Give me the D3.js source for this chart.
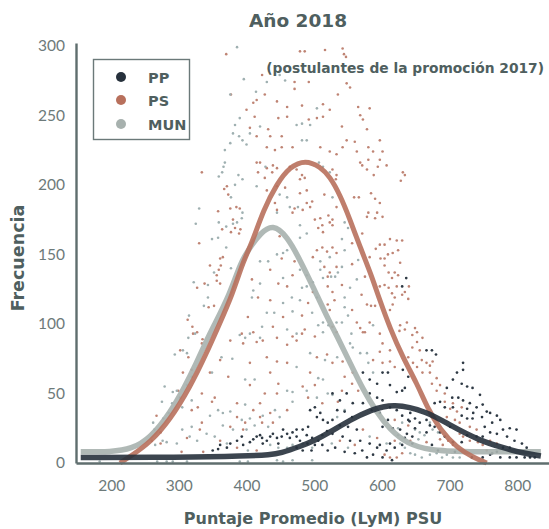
<!DOCTYPE html>
<html>
<head>
<meta charset="utf-8">
<script src="https://cdn.jsdelivr.net/npm/d3@7"></script>
<style>
	body { margin: 0; background: #fff; }
	svg { display: block; }
</style>
</head>
<body>
<div id="chart"></div>
<script>
// puntaje vs frecuencia
var seriesNames = ['PP', 'PS', 'MUN'];
var xTicks = [200, 300, 400, 500, 600, 700, 800];
var yTicks = [0, 50, 100, 150, 200, 250, 300];

var ppCurve = [[155,4],[300,4],[400,5],[435,6],[450,7],[480,12],[500,16],[523,22],[553,31],[583,38],[617,43],[667,37],[701,27],[745,16],[779,11],[809,7],[835,5]];
var psCurve = [[213,0],[232,6],[258,15],[287,31],[317,55],[340,78],[360,100],[379,121],[395,145],[408,158],[425,182],[445,201],[464,213],[487,218],[509,213],[523,206],[538,193],[553,175],[568,155],[583,137],[597,117],[612,97],[631,76],[652,57],[667,40],[686,24],[711,11],[735,4],[755,0]];
var munCurve = [[155,8],[200,8],[230,10],[258,18],[287,36],[309,55],[326,72],[341,88],[349,96],[376,122],[391,144],[405,155],[420,165],[439,172],[460,163],[479,146],[498,127],[519,105],[534,91],[553,72],[572,53],[593,36],[612,24],[637,14],[671,9],[720,8],[835,8]];

var psDots = [[370,294],[486,296],[479,296],[516,297],[542,298],[544,294],[547,292],[423,279],[471,274],[492,274],[471,269],[548,273],[553,270],[427,265],[535,265],[415,261],[410,259],[445,260],[460,256],[482,257],[513,258],[523,254],[565,256],[582,255],[412,249],[447,248],[460,249],[492,247],[504,248],[513,249],[568,250],[572,247],[405,241],[432,240],[541,242],[578,240],[415,235],[435,235],[452,235],[548,232],[560,231],[597,232],[430,227],[442,225],[452,227],[468,227],[509,227],[523,224],[542,227],[563,224],[580,227],[601,224],[420,216],[568,216],[607,214],[533,222],[580,218],[597,218],[631,209],[634,207],[587,224],[377,265],[400,254],
	[571,214],[578,211],[594,213],[588,207],[628,203],[532,204],[559,191],[566,191],[584,194],[590,190],[597,187],[580,180],[593,180],[578,177],[590,176],[601,177],[571,165],[612,161],[622,160],[630,160],[604,157],[597,157],[591,154],[616,151],[624,153],[609,150],[604,147],[598,147],[582,148],[627,144],[619,137],[624,135],[604,142],[610,137],[615,133],[622,127],[640,127],[634,123],[604,128],[610,126],[597,127],[615,122],[619,119],[630,121],[639,118],[616,114],[612,110],[578,114],[584,113],[590,113],[627,99],[637,101],[649,97],[652,94],[626,95],[634,96],
	[533,184],[527,171],[556,158],[556,143],[575,134],[541,128],[570,121],[523,110],[556,110],[563,101],[582,101],[568,97],[575,94],
	[334,209],[371,199],[367,197],[373,193],[358,181],[376,183],[385,184],[390,183],[380,175],[364,168],[377,166],[383,169],[391,168],[389,165],[330,158],[361,147],[365,148],[346,142],[362,142],[356,135],[359,139],[327,126],[338,129],[356,131],[361,129],[344,112],[352,113],[313,103],[320,98],[327,94],
	[415,216],[430,212],[439,214],[445,212],[438,209],[417,209],[427,205],[430,196],[445,199],[464,213],[474,211],[482,207],[479,204],[486,205],[457,198],[479,194],[489,196],[471,183],[483,182],[468,180],[442,187],[445,182],[489,187],[497,188],[494,184],[501,175],[509,176],[512,171],[506,169],[513,166],[521,178],[527,175],[523,173],[527,211],[533,207],[515,193],[449,163],[504,153],[512,155],[519,152],[527,155],[533,151],[452,147],[471,145],[498,148],[515,141],[435,139],[468,135],[520,134],[523,137],[533,141],[408,132],[447,129],[460,127],[498,123],[520,127],[527,123],[417,119],[435,117],[491,115],[520,114],[530,117],[402,105],[454,105],[482,106],[410,94],[439,98],[486,96],[393,93],[445,90],[468,91],[482,93],[527,98],[533,94],
	[321,93],[335,89],[334,86],[302,81],[314,76],[306,65],[319,67],[299,52],[302,47],[267,34],[273,22],[260,16],[273,14],[319,38],[328,40],[334,50],[353,47],[349,44],[334,29],[312,18],[331,24],[346,65],[361,74],[376,88],[395,86],[415,87],[424,88],[405,72],[430,76],[445,73],[460,85],[474,88],[501,91],[504,76],[519,78],[460,72],[494,65],[373,62],[405,56],[435,65],[447,57],[427,50],[445,50],[483,55],[501,56],[386,43],[410,38],[420,43],[435,36],[460,38],[491,47],[512,43],[386,33],[398,29],[420,33],[376,26],[395,24],[423,29],[439,29],[361,16],[386,11],[415,9],[336,8],[304,8],
	[645,92],[652,87],[660,90],[645,83],[656,81],[639,76],[646,72],[652,69],[659,74],[666,72],[671,70],[675,73],[660,65],[671,65],[681,61],[674,57],[686,56],[681,52],[693,50],[693,44],[705,43],[701,39],[711,37],[718,40],[696,33],[708,31],[715,29],[730,26],[740,24],[715,21],[720,19],[730,16],[742,15],[749,13],[755,9],[760,16],[770,14],[698,16],[705,13],[690,13],[686,17],
	[572,94],[597,93],[601,86],[612,81],[597,80],[587,74],[601,72],[612,73],[619,69],[527,72],[542,73],[545,62],[557,65],[556,57],[565,52],[541,52],[535,44],[538,16],[560,13],[572,24],[593,18],[619,16],[604,6],[612,4],[622,4],[630,7],[619,31],[639,27],[642,16],[666,15]];

var munDots = [[386,299],[396,276],[414,267],[376,265],[430,274],[449,279],[457,275],[504,255],[390,248],[383,243],[420,242],[474,243],[482,244],[494,243],[380,237],[389,235],[394,232],[405,237],[482,232],[489,232],[376,230],[368,225],[400,229],[368,216],[366,213],[428,213],
	[364,209],[359,206],[388,207],[383,200],[394,204],[377,191],[330,183],[394,180],[393,176],[325,172],[359,173],[370,170],[380,172],[386,173],[349,161],[358,162],[370,155],[352,137],[377,140],[322,130],[343,128],[343,119],[337,113],[315,106],[324,93],[314,90],
	[415,199],[449,193],[460,191],[464,184],[476,184],[445,180],[479,171],[489,165],[507,216],[513,213],[479,162],[460,153],[454,151],[445,150],[420,145],[432,145],[509,145],[454,133],[479,139],[509,139],[513,133],[489,135],[498,130],[420,129],[410,124],[482,126],[489,127],[408,119],[454,115],[467,119],[479,117],[504,119],[430,108],[441,108],[468,109],[497,108],[506,99],[513,101],[521,99],[423,98],[460,96],[474,93],[405,93],[420,90],
	[523,209],[527,191],[545,173],[550,169],[541,161],[545,153],[523,148],[541,141],[565,146],[563,132],[525,134],[531,134],[535,137],[553,126],[545,119],[545,112],[550,106],[533,101],[541,101],[587,99],[555,93],
	[306,81],[312,79],[294,78],[319,62],[279,55],[291,51],[275,44],[290,43],[277,32],[285,36],[262,29],[264,24],[282,15],[297,14],[305,24],[316,19],[319,26],[327,16],[341,21],[346,34],[358,38],[365,36],[349,65],[363,76],[379,75],[390,92],[398,90],[494,79],[516,74],[513,94],[474,69],[506,61],[398,60],[412,60],[460,52],[468,51],[489,52],[513,60],[398,42],[424,34],[442,38],[449,33],[468,44],[504,47],[520,50],[376,37],[393,31],[405,32],[365,27],[380,24],[400,24],[412,27],[432,26],[353,19],[371,14],[402,9],[435,13],[447,11],[460,11],[468,13],[483,14],[497,11],
	[390,1],[402,1],[445,2],[454,1],[468,2],[497,2],[183,1],[268,1],[282,1],[291,1],[312,1],[297,52],[305,40],[312,56],[319,45],[276,16],[265,13],
	[534,76],[553,86],[557,83],[568,79],[578,79],[580,72],[587,65],[534,33],[545,38],[527,49],[526,14],[550,11],[582,19],[607,14],[624,20],[627,14],[634,11],[642,7],[649,6],[659,4],[671,6],[681,7],[689,4],[696,6],[705,4],[715,4],[649,24],[656,22],[663,20],[654,17],[671,29],[675,24],[683,22],[630,29],[624,25]];

var ppDots = [[358,10],[371,11],[376,14],[386,16],[393,19],[395,13],[405,15],[415,19],[423,18],[424,14],[430,16],[435,19],[439,21],[445,18],[447,14],[452,19],[454,24],[460,21],[464,18],[468,22],[474,19],[479,16],[474,24],[483,24],[491,26],[494,38],[501,40],[504,33],[509,36],[513,31],[520,29],[519,23],[512,20],[506,16],[497,18],[489,20],[490,14],[501,13],[512,13],[520,9],[496,9],[483,9],[474,11],[350,9],[361,13],[410,17],[420,20],
	[636,133],[630,127],[666,81],[674,81],[680,78],[631,67],[639,62],[726,32],
	[527,50],[538,45],[548,50],[557,43],[534,38],[545,37],[556,33],[527,31],[538,27],[550,26],[563,24],[527,21],[542,19],[553,16],[568,16],[531,11],[545,8],[560,7],[571,9],[578,4],[587,6],[593,11],[582,14],[597,13],[607,9],[612,14],[619,11],[630,13],[601,4],[615,2],
	[572,65],[582,60],[593,57],[601,65],[609,65],[612,56],[622,51],[630,52],[634,54],[582,50],[593,47],[601,45],[572,43],[585,38],[597,36],[612,40],[622,38],[630,34],[642,36],[649,32],[641,30],[656,29],[666,31],[671,27],[609,31],[601,26],[616,25],[627,24],[637,21],[645,19],
	[678,43],[686,44],[693,40],[704,47],[713,47],[720,45],[726,39],[730,43],[740,40],[749,42],[755,37],[760,36],[748,33],[734,32],[770,34],[775,31],[763,29],[752,26],[779,24],[789,25],[799,24],[770,21],[760,22],[749,19],[785,19],[796,16],[807,14],[814,11],[789,11],[779,11],[770,8],[760,6],[775,4],[789,4],[799,4],[811,4],[819,4],[826,4],[696,54],[705,60],[718,57],[726,55],[720,67],[711,65],[720,72],[734,54],[745,49],
	[639,31],[649,25],[666,22],[678,26],[686,22],[701,26],[693,19],[705,15],[718,15],[726,20],[740,19],[634,18],[645,14],[674,13],[683,9],[708,8],[733,4],[749,4],[763,7],[735,36],[718,34],[705,40]];

var colors = { PP: '#27313c', PS: '#b8705c', MUN: '#a7b1ae' };
var dotColors = { PP: '#2e3944', PS: '#bf8474', MUN: '#9fb0b1' };
var textColor = '#4f5f5f';
var axisColor = '#5f6e6e';

function ChartView(el) {
	this.w = 549;
	this.h = 529;
	this.svg = d3.select(el).append('svg')
		.attr('width', this.w)
		.attr('height', this.h);
	this.x = d3.scaleLinear().domain([148, 847]).range([76, 549]);
	this.y = d3.scaleLinear().domain([0, 302]).range([463, 43]);
};

ChartView.prototype = {
	drawAxes: function() {
		var yAxis = this.svg.append('g')
			.attr('transform', 'translate(76,0)')
			.call(d3.axisLeft(this.y).tickValues(yTicks).tickSize(0).tickPadding(11));
		var xAxis = this.svg.append('g')
			.attr('transform', 'translate(0,463)')
			.call(d3.axisBottom(this.x).tickValues(xTicks).tickSize(0).tickPadding(17));

		[yAxis, xAxis].forEach(function(g) {
			g.select('.domain').attr('stroke', axisColor).attr('stroke-width', 2.4);
			g.selectAll('text')
				.attr('fill', '#6d7a7a')
				.style('font-family', 'Lato, sans-serif')
				.style('font-size', '15.5px');
		});
	},
	drawDots: function(name, dots, r) {
		var that = this;
		this.svg.append('g').selectAll('circle')
			.data(dots)
			.enter()
			.append('circle')
			.attr('cx', function(d) { return that.x(d[0]); })
			.attr('cy', function(d) { return that.y(d[1]); })
			.attr('r', r)
			.attr('fill', dotColors[name]);
	},
	drawCurve: function(name, points, width) {
		var that = this;
		// basis suaviza las lecturas del grafico
		var line = d3.line()
			.x(function(d) { return that.x(d[0]); })
			.y(function(d) { return that.y(d[1]); })
			.curve(d3.curveBasis);
		this.svg.append('path')
			.datum(points)
			.attr('d', line)
			.attr('fill', 'none')
			.attr('stroke', colors[name])
			.attr('stroke-width', width)
			.attr('stroke-opacity', 0.9);
	},
	drawLegend: function() {
		var g = this.svg.append('g');
		g.append('rect')
			.attr('x', 93.5).attr('y', 59.5)
			.attr('width', 96).attr('height', 80)
			.attr('fill', '#fff')
			.attr('stroke', '#6b7979')
			.attr('stroke-width', 1.4);
		var rowY = [77, 100, 124];
		seriesNames.forEach(function(name, i) {
			g.append('circle')
				.attr('cx', 121).attr('cy', rowY[i])
				.attr('r', 5)
				.attr('fill', colors[name]);
			g.append('text')
				.attr('x', 148).attr('y', rowY[i] + 6)
				.attr('fill', textColor)
				.style('font-family', 'DejaVu Sans, sans-serif')
				.style('font-weight', 'bold')
				.style('font-size', '14.5px')
				.text(name);
		});
	},
	drawTitles: function() {
		var bold = function(sel, size) {
			return sel.attr('fill', textColor)
				.style('font-family', 'DejaVu Sans, sans-serif')
				.style('font-weight', 'bold')
				.style('font-size', size);
		};
		bold(this.svg.append('text'), '18.5px')
			.attr('x', 298).attr('y', 27)
			.attr('text-anchor', 'middle')
			.text('Año 2018');
		bold(this.svg.append('text'), '13.8px')
			.attr('x', 544).attr('y', 73)
			.attr('text-anchor', 'end')
			.text('(postulantes de la promoción 2017)');
		bold(this.svg.append('text'), '16px')
			.attr('x', 313).attr('y', 524)
			.attr('text-anchor', 'middle')
			.text('Puntaje Promedio (LyM) PSU');
		bold(this.svg.append('text'), '17.5px')
			.attr('transform', 'translate(24,258) rotate(-90)')
			.attr('text-anchor', 'middle')
			.text('Frecuencia');
	}
};

var chart = new ChartView('#chart');
chart.drawTitles();
chart.drawDots('PS', psDots, 1.3);
chart.drawDots('MUN', munDots, 1.3);
chart.drawDots('PP', ppDots, 1.35);
chart.drawCurve('MUN', munCurve, 5.5);
chart.drawCurve('PS', psCurve, 5);
chart.drawCurve('PP', ppCurve, 5.5);
chart.drawAxes();
chart.drawLegend();
</script>
</body>
</html>
